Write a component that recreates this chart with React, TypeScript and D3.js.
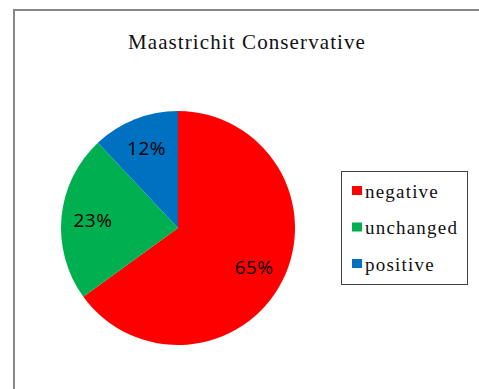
import React, { useEffect, useRef } from 'react';
import * as d3 from 'd3';

const categories = ['negative', 'unchanged', 'positive'];
const shares = [65, 23, 12];
const colors = ['#ff0000', '#00b050', '#0070c0'];
const title = 'Maastrichit Conservative';

export default function App() {
  const ref = useRef<SVGSVGElement>(null);

  useEffect(() => {
    if (!ref.current) return;
    const width = 479;
    const height = 389;
    const svg = d3.select(ref.current);
    svg.selectAll('*').remove();

    svg.append('rect').attr('width', width).attr('height', height).attr('fill', '#fff');

    // chart frame (cut off on right and bottom)
    svg.append('rect')
      .attr('x', 14).attr('y', 10)
      .attr('width', 500).attr('height', 420)
      .attr('fill', 'none')
      .attr('stroke', '#878787')
      .attr('stroke-width', 2);

    const serif = "'Liberation Serif', 'DejaVu Serif', serif";

    svg.append('text')
      .attr('x', 247).attr('y', 49)
      .attr('text-anchor', 'middle')
      .style('font-family', serif)
      .attr('font-size', 21)
      .attr('letter-spacing', 1.1)
      .attr('fill', '#111')
      .text(title);

    const cx = 178;
    const cy = 228;
    const r = 117;

    const data = categories.map((c, i) => ({ name: c, value: shares[i], color: colors[i] }));
    const pie = d3.pie<any>().value(d => d.value).sort(null);
    const arcs = pie(data);
    const arc = d3.arc<any>().innerRadius(0).outerRadius(r);
    const labelArc = d3.arc<any>().innerRadius(r * 0.73).outerRadius(r * 0.73);

    const g = svg.append('g').attr('transform', `translate(${cx},${cy})`);
    g.selectAll('path')
      .data(arcs)
      .enter()
      .append('path')
      .attr('d', arc)
      .attr('fill', d => d.data.color);

    g.selectAll('text')
      .data(arcs)
      .enter()
      .append('text')
      .attr('transform', d => `translate(${labelArc.centroid(d)})`)
      .attr('text-anchor', 'middle')
      .attr('dy', '0.36em')
      .style('font-family', "'Open Sans', 'Noto Sans', sans-serif")
      .attr('font-size', 19)
      .attr('letter-spacing', 0.5)
      .attr('fill', '#000')
      .text(d => `${d.data.value}%`);

    // legend
    const lg = svg.append('g').attr('transform', 'translate(341,171)');
    lg.append('rect')
      .attr('x', 0.5).attr('y', 0.5)
      .attr('width', 126).attr('height', 113)
      .attr('fill', '#fff')
      .attr('stroke', '#404040')
      .attr('stroke-width', 1);

    const rowY = d3.scalePoint<string>().domain(categories).range([21, 94]);
    const item = lg.selectAll('g.item')
      .data(data)
      .enter()
      .append('g')
      .attr('class', 'item')
      .attr('transform', d => `translate(0,${rowY(d.name)})`);
    item.append('rect')
      .attr('x', 11).attr('y', -6)
      .attr('width', 10).attr('height', 9)
      .attr('fill', d => d.color);
    item.append('text')
      .attr('x', 24).attr('y', 5.5)
      .style('font-family', serif)
      .attr('font-size', 19)
      .attr('letter-spacing', 1.2)
      .attr('fill', '#111')
      .text(d => d.name);
  }, []);

  return (
    <div style={{ position: 'absolute', left: 0, top: 0 }}>
      <svg ref={ref} width={479} height={389} style={{ display: 'block' }} />
    </div>
  );
}
